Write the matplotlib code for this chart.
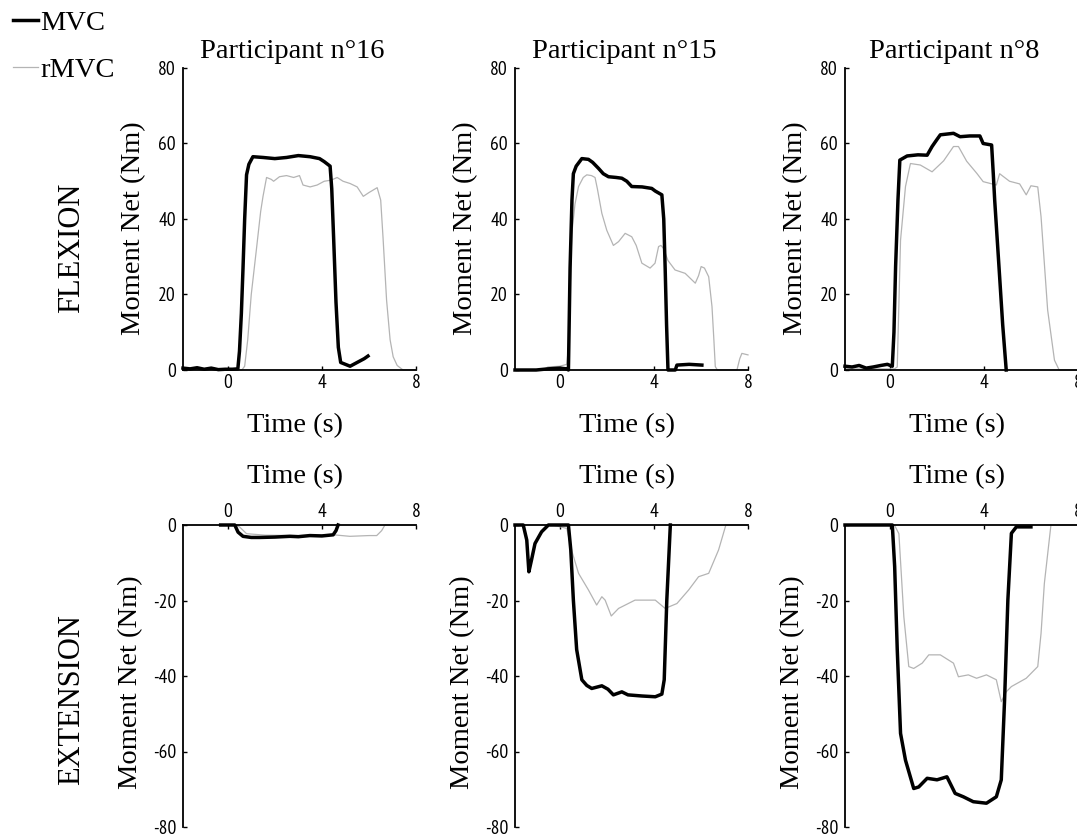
import matplotlib
matplotlib.use("Agg")
import matplotlib.pyplot as plt
from matplotlib import font_manager as fm

# ---------------- data (time s, moment Nm) ----------------
p16_flex_mvc_t = [-1.9, -1.6, -1.3, -1.0, -0.7, -0.4, -0.1, 0.2, 0.43, 0.5, 0.58, 0.65, 0.72, 0.8, 0.9, 1.07, 1.5, 2.0, 2.5, 3.0, 3.5, 3.9, 4.1, 4.35, 4.42, 4.5, 4.6, 4.7, 4.8, 5.0, 5.2, 5.5, 5.8, 5.96]
p16_flex_mvc_v = [0.5, 0.3, 0.6, 0.2, 0.5, 0.1, 0.2, 0.2, 0.3, 5, 15, 27, 40, 51.7, 54.5, 56.5, 56.3, 56.0, 56.3, 56.8, 56.5, 56.0, 55.2, 54, 48, 35, 18, 6, 2, 1.5, 1, 2, 3, 3.7]
p16_flex_rmvc_t = [0.0, 0.6, 0.72, 0.85, 1.0, 1.22, 1.4, 1.5, 1.65, 1.85, 1.95, 2.2, 2.5, 2.8, 3.05, 3.2, 3.5, 3.8, 4.1, 4.4, 4.65, 4.9, 5.2, 5.5, 5.76, 6.0, 6.35, 6.5, 6.6, 6.75, 6.9, 7.03, 7.2, 7.45, 8.0]
p16_flex_rmvc_v = [0, 0, 1, 8, 20, 32, 42, 46, 51, 50.5, 50, 51.2, 51.5, 51, 51.5, 49, 48.5, 49, 50, 50.3, 51, 50, 49.4, 48.5, 46, 47, 48.3, 45, 35, 18.5, 8, 3.5, 1.2, 0, 0]

p15_flex_mvc_t = [-1.9, -1.0, -0.5, 0.0, 0.3, 0.37, 0.44, 0.52, 0.58, 0.7, 0.94, 1.22, 1.4, 1.65, 1.85, 2.07, 2.4, 2.64, 2.85, 3.06, 3.5, 3.91, 4.06, 4.34, 4.42, 4.48, 4.54, 4.6, 4.91, 4.98, 5.5, 6.04]
p15_flex_mvc_v = [0, 0, 0.3, 0.5, 0.3, 0, 27, 45, 52, 54, 56, 55.8, 55, 53.4, 52, 51.2, 51, 50.8, 50, 48.6, 48.5, 48.1, 47.4, 46.4, 40, 27, 12, 0, 0, 1.3, 1.5, 1.3]
p15_flex_rmvc_t = [-1.9, -0.7, -0.5, 0.0, 0.3, 0.37, 0.51, 0.65, 0.8, 1.0, 1.15, 1.35, 1.5, 1.6, 1.79, 2.0, 2.28, 2.5, 2.78, 3.06, 3.25, 3.49, 3.84, 4.05, 4.2, 4.3, 4.4, 4.6, 4.9, 5.33, 5.76, 5.9, 6.01, 6.15, 6.33, 6.47, 6.55, 6.61, 6.7, 7.53, 7.65, 7.74, 8.0]
p15_flex_rmvc_v = [0, 0, 0.8, 1, 1.5, 6, 36, 44, 48.6, 51, 51.7, 51.5, 51, 48, 41.5, 37, 33, 34, 36.2, 35.3, 33, 28.3, 27, 28.3, 32.7, 33, 32.3, 29, 26.5, 25.6, 23, 25, 27.4, 27, 24.7, 16.8, 8, 0.9, 0, 0, 3, 4.4, 4]

p8_flex_mvc_t = [-1.9, -1.6, -1.3, -1.0, -0.7, -0.38, -0.1, 0.11, 0.18, 0.25, 0.35, 0.43, 0.74, 1.2, 1.59, 1.8, 2.0, 2.15, 2.71, 2.99, 3.4, 3.83, 3.97, 4.33, 4.4, 4.46, 4.67, 4.8, 4.95]
p8_flex_mvc_v = [1, 0.8, 1.2, 0.5, 0.8, 1.2, 1.5, 1, 10, 27.4, 45, 55.6, 56.7, 57, 56.9, 59.2, 61, 62.3, 62.7, 61.8, 62, 62, 60, 59.6, 52, 45, 24.7, 12, 0]
p8_flex_rmvc_t = [-1.9, 0.2, 0.32, 0.46, 0.67, 0.88, 1.3, 1.8, 2.29, 2.71, 2.92, 3.27, 3.7, 3.97, 4.53, 4.67, 5.09, 5.52, 5.8, 6.0, 6.29, 6.43, 6.71, 7.0, 7.2, 8.0]
p8_flex_rmvc_v = [0.3, 0.3, 0.8, 34.4, 48.6, 54.7, 54.3, 52.5, 55.4, 59.2, 59.2, 55.3, 52.1, 49.9, 49, 52, 50, 49.3, 46.4, 48.8, 48.5, 40.6, 15.9, 2.6, 0, 0]

p16_ext_mvc_t = [-0.3, 0.3, 0.44, 0.65, 1.0, 1.36, 2.0, 2.64, 3.0, 3.49, 4.0, 4.48, 4.6, 4.69]
p16_ext_mvc_v = [0, 0, -1.9, -3.0, -3.3, -3.3, -3.2, -3.0, -3.1, -2.8, -2.9, -2.6, -1.5, 0]
p16_ext_rmvc_t = [0.3, 0.5, 0.8, 1.6, 3.0, 4.5, 5.19, 6.0, 6.33, 6.54, 6.68, 8.0]
p16_ext_rmvc_v = [0, -0.5, -2.3, -2.7, -2.8, -2.6, -3.0, -2.8, -2.8, -1.5, 0, 0]

p15_ext_mvc_t = [-1.9, -1.55, -1.4, -1.31, -1.2, -1.05, -0.77, -0.48, 0.37, 0.47, 0.58, 0.72, 0.94, 1.15, 1.36, 1.79, 2.05, 2.28, 2.64, 2.9, 3.5, 4.06, 4.34, 4.44, 4.55, 4.7]
p15_ext_mvc_v = [0, 0, -4, -12.4, -9.3, -4.9, -1.8, 0, 0, -6.6, -19.9, -33, -41, -42.5, -43.3, -42.6, -43.5, -45, -44.2, -45, -45.3, -45.5, -44.8, -41, -19.9, 0]
p15_ext_rmvc_t = [-0.3, 0.3, 0.5, 0.8, 1.22, 1.57, 1.79, 1.93, 2.19, 2.5, 3.2, 4.06, 4.48, 4.98, 5.48, 5.9, 6.33, 6.75, 7.06, 8.0]
p15_ext_rmvc_v = [0, -0.9, -6.6, -12.8, -17.2, -21.2, -19, -19.9, -24.1, -22.1, -19.9, -19.9, -22.1, -20.8, -17.2, -13.7, -12.8, -6.6, 0, 0]

p8_ext_mvc_t = [-1.9, 0.11, 0.21, 0.32, 0.46, 0.67, 1.02, 1.23, 1.59, 2.01, 2.43, 2.78, 3.13, 3.55, 4.11, 4.53, 4.74, 4.88, 5.02, 5.17, 5.38, 6.0]
p8_ext_mvc_v = [0, 0, -11, -33, -55.2, -62.3, -69.8, -69.4, -67.1, -67.5, -66.7, -71.1, -72, -73.3, -73.7, -72, -67.5, -46.4, -19.9, -2.2, -0.5, -0.5]
p8_ext_rmvc_t = [-1.9, 0.2, 0.39, 0.6, 0.81, 1.02, 1.38, 1.66, 2.15, 2.71, 2.92, 3.34, 3.69, 4.11, 4.53, 4.74, 4.95, 5.17, 5.8, 6.29, 6.43, 6.57, 6.85, 8.0]
p8_ext_rmvc_v = [0, 0, -2.3, -24.3, -37.5, -38, -36.6, -34.4, -34.4, -36.6, -40.2, -39.7, -40.6, -39.7, -41, -46.8, -44.2, -42.8, -40.6, -37.5, -28.7, -15.5, 0, 0]

participants = ["Participant n°16", "Participant n°15", "Participant n°8"]
row_labels = ["FLEXION", "EXTENSION"]
x_ticks = [0, 4, 8]
flex_ticks = [0, 20, 40, 60, 80]
ext_ticks = [0, -20, -40, -60, -80]
series_names = ["MVC", "rMVC"]

flex_data = [
    (p16_flex_mvc_t, p16_flex_mvc_v, p16_flex_rmvc_t, p16_flex_rmvc_v),
    (p15_flex_mvc_t, p15_flex_mvc_v, p15_flex_rmvc_t, p15_flex_rmvc_v),
    (p8_flex_mvc_t, p8_flex_mvc_v, p8_flex_rmvc_t, p8_flex_rmvc_v),
]
ext_data = [
    (p16_ext_mvc_t, p16_ext_mvc_v, p16_ext_rmvc_t, p16_ext_rmvc_v),
    (p15_ext_mvc_t, p15_ext_mvc_v, p15_ext_rmvc_t, p15_ext_rmvc_v),
    (p8_ext_mvc_t, p8_ext_mvc_v, p8_ext_rmvc_t, p8_ext_rmvc_v),
]

# ---------------- style ----------------
plt.rcParams["axes.unicode_minus"] = False
available = {f.name for f in fm.fontManager.ttflist}

def pick(cands):
    for c in cands:
        if c in available:
            return c
    return "DejaVu Sans"

SERIF = [pick(["Liberation Serif", "Tinos", "DejaVu Serif"])]
NARROW = pick(["Liberation Sans Narrow", "Arial Narrow", "PT Sans Narrow",
               "Roboto Condensed", "Open Sans Condensed", "Liberation Sans"])
TICKFONT = [NARROW]
LABEL_SIZE = 20.5
TICK_SIZE = 14
BLACK_LW = 2.5
GRAY_LW = 0.9
GRAY = "#b4b4b4"

W, H = 1077, 836
fig = plt.figure(figsize=(W / 100, H / 100), dpi=100)

col_left = [183, 515, 845]
ax_w = 233
row_top = [68, 525]
ax_h = 302

def make_ax(col, row):
    l = col_left[col] / W
    b = 1 - (row_top[row] + ax_h) / H
    return fig.add_axes([l, b, ax_w / W, ax_h / H])

handles = None
for row, data in enumerate([flex_data, ext_data]):
    for col in range(3):
        ax = make_ax(col, row)
        mt, mv, rt, rv = data[col]
        lg, = ax.plot(rt, rv, color=GRAY, lw=GRAY_LW, clip_on=False, zorder=2)
        lb, = ax.plot(mt, mv, color="black", lw=BLACK_LW, clip_on=False, zorder=3)
        handles = [lb, lg]
        ax.set_xlim(-1.9, 8)
        ax.set_xticks(x_ticks)
        ax.spines["right"].set_visible(False)
        ax.spines["left"].set_linewidth(1.3)
        if row == 0:
            ax.set_ylim(0, 80)
            ax.set_yticks(flex_ticks)
            ax.spines["top"].set_visible(False)
            ax.spines["bottom"].set_linewidth(1.3)
            ax.tick_params(axis="x", direction="in", length=3, pad=3, width=1)
            ax.text(0.47, 1.053, participants[col], transform=ax.transAxes,
                    ha="center", va="center", family=SERIF, fontsize=LABEL_SIZE)
            ax.text(0.48, -0.185, "Time (s)", transform=ax.transAxes,
                    ha="center", va="center", family=SERIF, fontsize=LABEL_SIZE)
            ylab_x = -0.21
            ylab_y = 0.47
        else:
            ax.set_ylim(-80, 0)
            ax.set_yticks(ext_ticks)
            ax.spines["bottom"].set_visible(False)
            ax.spines["top"].set_linewidth(1.3)
            ax.xaxis.tick_top()
            ax.tick_params(axis="x", direction="in", length=3, pad=3, width=1)
            ax.text(0.48, 1.16, "Time (s)", transform=ax.transAxes,
                    ha="center", va="center", family=SERIF, fontsize=LABEL_SIZE)
            ylab_x = -0.223
            ylab_y = 0.48
        ax.tick_params(axis="y", direction="in", length=3, pad=5, width=1)
        for lab in ax.get_xticklabels() + ax.get_yticklabels():
            lab.set_family(TICKFONT)
            lab.set_fontsize(TICK_SIZE)
        ax.text(ylab_x, ylab_y, "Moment Net (Nm)", transform=ax.transAxes,
                rotation=90, ha="center", va="center", family=SERIF,
                fontsize=LABEL_SIZE)
        ax.patch.set_alpha(0)

# row labels
fig.text(72 / W, 1 - 248 / H, row_labels[0], rotation=90, ha="center", va="center",
         family=SERIF, fontsize=22)
fig.text(72 / W, 1 - 700 / H, row_labels[1], rotation=90, ha="center", va="center",
         family=SERIF, fontsize=22)

# legend
fig.legend(handles, series_names, loc="upper left", bbox_to_anchor=(-0.006, 1.012),
           frameon=False, handlelength=0.85, handletextpad=0.1,
           labelspacing=0.76, borderpad=0.2,
           prop={"family": SERIF, "size": LABEL_SIZE})

fig.savefig("out.png", dpi=100)
